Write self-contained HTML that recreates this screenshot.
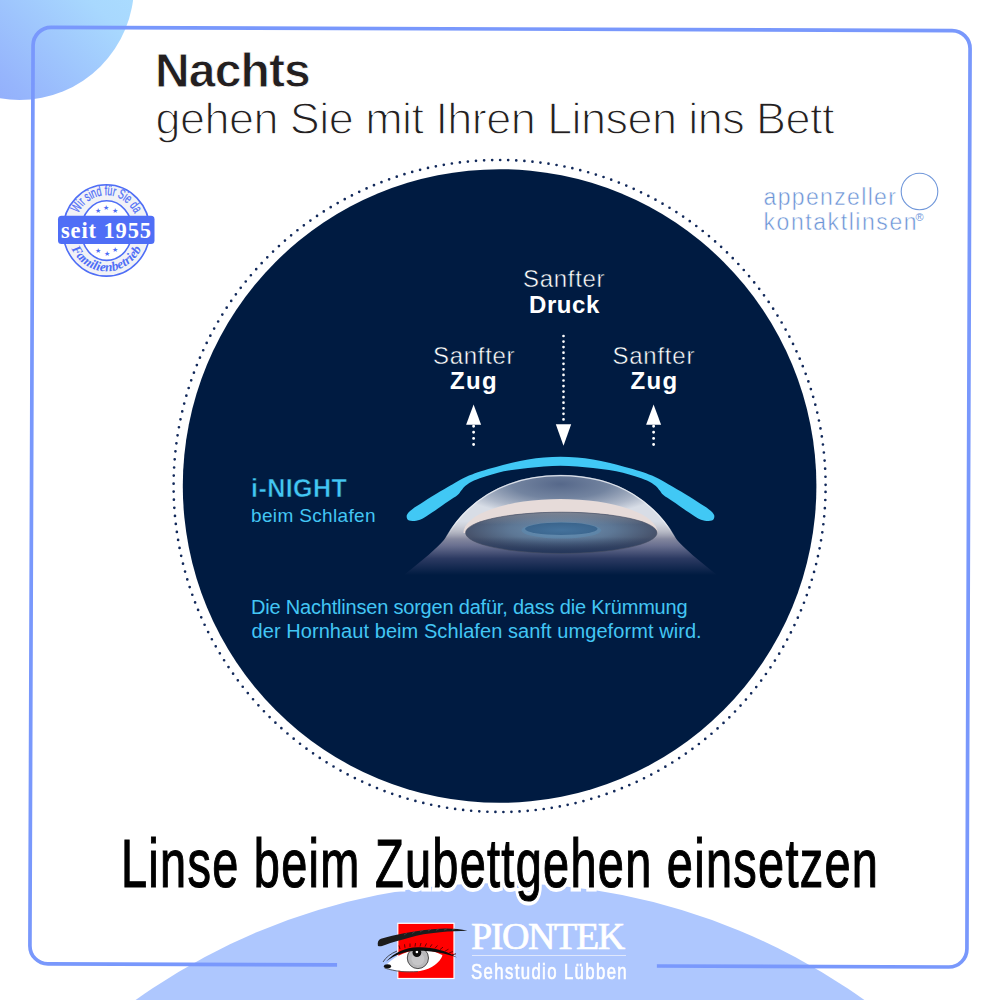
<!DOCTYPE html>
<html><head><meta charset="utf-8">
<style>
html,body{margin:0;padding:0;}
body{width:1000px;height:1000px;position:relative;overflow:hidden;background:#fff;font-family:"Liberation Sans",sans-serif;}
.abs{position:absolute;white-space:nowrap;}
#tlc{position:absolute;left:-95px;top:-129.5px;width:229px;height:229px;border-radius:50%;
 background:linear-gradient(225deg,#b0e6ff 0%,#a8d8fe 38%,#96b5fc 73%,#8a9ffa 100%);}
#bc{position:absolute;left:-126px;top:883px;width:1252px;height:1252px;border-radius:50%;background:#aec7fe;}
svg{position:absolute;left:0;top:0;}
.w{color:#fff;line-height:1;}
.w:not(.b){-webkit-text-stroke:0.5px #001b41;}
.c{color:#43c6f4;line-height:1;}
.b{font-weight:700;}
.ap{color:#6b93d6;line-height:1;-webkit-text-stroke:0.5px #fff;}
.t1{left:155px;top:43.2px;letter-spacing:-0.85px;-webkit-text-stroke:0.8px #fff;font-size:48px;font-weight:700;color:#231f20;}
.t2{left:155.6px;top:93.2px;font-size:45px;font-weight:400;color:#231f20;letter-spacing:-0.56px;-webkit-text-stroke:1.3px #fff;}
.head{left:121px;top:823.8px;font-size:69px;font-weight:400;color:#000;transform-origin:0 0;transform:scaleX(0.68);letter-spacing:1.88px;-webkit-text-stroke:1.2px #000;}
.halo{color:#fff;-webkit-text-stroke:9px #fff;}
</style></head><body>
<div id="tlc"></div>
<div id="bc"></div>

<svg width="1000" height="1000" viewBox="0 0 1000 1000">
 <g transform="rotate(0.2 500 497.2)" fill="none" stroke="#7998fc" stroke-width="3.7">
  <path d="M658.5 965.45 H950.5 A18 18 0 0 0 968.5 947.45 V46.95 A18 18 0 0 0 950.5 28.95 H49.5 A18 18 0 0 0 31.5 46.95 V947.45 A18 18 0 0 0 49.5 965.45 H338.7"/>
 </g>
 <circle cx="499.6" cy="486" r="326" fill="none" stroke="#12295a" stroke-width="2.7" stroke-linecap="round" stroke-dasharray="0 8.096" stroke-dashoffset="2.04"/>
 <circle cx="499.6" cy="486" r="316.8" fill="#001b41"/>
</svg>

<svg width="1000" height="1000" viewBox="0 0 1000 1000">
 <defs>
  <linearGradient id="glow" gradientUnits="userSpaceOnUse" x1="0" y1="516" x2="0" y2="575">
   <stop offset="0" stop-color="#c4c4cd"/>
   <stop offset="0.25" stop-color="#a3a3b0"/>
   <stop offset="0.5" stop-color="#6a7090"/>
   <stop offset="0.72" stop-color="#2c3a62"/>
   <stop offset="1" stop-color="#001b41"/>
  </linearGradient>
  <filter id="soft" x="-10%" y="-10%" width="120%" height="130%"><feGaussianBlur stdDeviation="1.2"/></filter>
  <radialGradient id="dome" cx="560.5" cy="484" r="108" gradientUnits="userSpaceOnUse" gradientTransform="translate(560.5 484) scale(1 0.3) translate(-560.5 -484)">
   <stop offset="0" stop-color="#56688a"/>
   <stop offset="0.45" stop-color="#7384a0"/>
   <stop offset="0.8" stop-color="#adb7c8"/>
   <stop offset="1" stop-color="#d8dde6"/>
  </radialGradient>
  <radialGradient id="iris" cx="0.5" cy="0.42" r="0.5">
   <stop offset="0" stop-color="#6f92b2"/>
   <stop offset="0.55" stop-color="#5d7795"/>
   <stop offset="1" stop-color="#47536c"/>
  </radialGradient>
  <linearGradient id="irisv" x1="0" y1="0" x2="0" y2="1">
   <stop offset="0" stop-color="#8a8f9a" stop-opacity="0.75"/>
   <stop offset="0.3" stop-color="#8a8f9a" stop-opacity="0"/>
   <stop offset="0.6" stop-color="#1c3057" stop-opacity="0"/>
   <stop offset="1" stop-color="#1c3057" stop-opacity="0.85"/>
  </linearGradient>
  <radialGradient id="pupil" cx="0.5" cy="0.6" r="0.6">
   <stop offset="0" stop-color="#44729c"/>
   <stop offset="1" stop-color="#3a648c"/>
  </radialGradient>
  <linearGradient id="dmg" gradientUnits="userSpaceOnUse" x1="0" y1="521" x2="0" y2="539">
   <stop offset="0" stop-color="#fff"/><stop offset="1" stop-color="#000"/>
  </linearGradient>
  <mask id="domemask" maskUnits="userSpaceOnUse" x="430" y="460" width="260" height="90"><rect x="430" y="460" width="260" height="90" fill="url(#dmg)"/></mask>
  <clipPath id="domeclip"><path d="M443.9,540 C462.4,506.9 499.3,474.8 560.5,474.8 C621.7,474.8 658.6,506.9 677.1,540 Z"/></clipPath>
 </defs>
 <!-- glow below eye -->
 <path d="M460.8,516.8 C458.6,519.4 456.5,522 454.3,524.6 C452.6,527.2 450.8,529.8 449.1,532.4 C447.4,535 445.6,537.5 443.9,540 C436,549 424,559 404,575 L717,575 C697,559 685,549 677.1,540 C675.4,537.5 673.6,535 671.9,532.4 C670.2,529.8 668.4,527.2 666.7,524.6 C664.5,522 662.4,519.4 660.2,516.8 Z" fill="url(#glow)"/>
 <!-- dome -->
 <path d="M443.9,540 C462.4,506.9 499.3,474.8 560.5,474.8 C621.7,474.8 658.6,506.9 677.1,540 Z" fill="url(#dome)" mask="url(#domemask)"/>
 <path d="M446.5,537 C464.5,505.5 500,475.7 560.5,475.7 C621,475.7 656.5,505.5 674.5,537" fill="none" stroke="#eef1f6" stroke-width="1.3" opacity="0.85" mask="url(#domemask)"/>
 <g clip-path="url(#domeclip)">
  <path d="M463.5,533 A97 34 0 0 1 657.5,533 Z" fill="#e6dbd9"/>
 </g>
 <ellipse cx="561.3" cy="532.8" rx="95.7" ry="20.6" fill="url(#iris)"/>
 <ellipse cx="561.3" cy="532.8" rx="95.7" ry="20.6" fill="url(#irisv)" stroke="#454d62" stroke-width="1" stroke-opacity="0.6"/>
 <ellipse cx="561.3" cy="530.3" rx="40" ry="8.2" fill="#5c8fb6" opacity="0.45"/>
 <ellipse cx="561.3" cy="528.8" rx="36.3" ry="6.2" fill="url(#pupil)"/>
 <!-- lens -->
 <path d="M560.5,456.8 C555.0,456.8 549.4,457.1 544.0,457.5 C538.6,457.9 533.3,458.6 528.0,459.5 C522.7,460.4 517.3,461.6 512.0,462.8 C506.7,464.1 501.2,465.6 496.0,467.0 C490.8,468.4 485.5,469.8 481.0,471.2 C476.5,472.6 473.2,473.8 469.0,475.6 C464.8,477.4 460.8,479.5 456.0,482.2 C451.2,484.9 445.3,488.4 440.0,491.6 C434.7,494.8 428.7,498.6 424.0,501.6 C419.3,504.6 414.9,507.1 412.0,509.4 C409.1,511.7 407.3,513.3 406.8,515.2 C406.3,517.1 407.0,519.8 409.2,520.6 C411.4,521.4 416.2,521.1 420.0,519.8 C423.8,518.5 427.3,515.7 432.0,512.6 C436.7,509.5 443.7,504.3 448.0,501.4 C452.3,498.5 455.4,496.9 457.6,495.0 C459.9,493.1 460.2,491.8 461.5,490.3 C462.8,488.8 463.4,487.4 465.5,485.8 C467.6,484.2 470.6,482.2 474.0,480.6 C477.4,479.0 482.0,477.6 486.0,476.3 C490.0,475.0 493.7,473.8 498.0,472.7 C502.3,471.6 507.0,470.8 512.0,470.0 C517.0,469.2 522.7,468.5 528.0,467.9 C533.3,467.3 538.6,466.8 544.0,466.4 C549.4,466.0 555.0,465.8 560.5,465.8 C566.0,465.8 571.6,466.0 577.0,466.4 C582.4,466.8 587.7,467.3 593.0,467.9 C598.3,468.5 604.0,469.2 609.0,470.0 C614.0,470.8 618.7,471.6 623.0,472.7 C627.3,473.8 631.0,475.0 635.0,476.3 C639.0,477.6 643.6,479.0 647.0,480.6 C650.4,482.2 653.4,484.2 655.5,485.8 C657.6,487.4 658.2,488.8 659.5,490.3 C660.8,491.8 661.1,493.1 663.4,495.0 C665.6,496.9 668.7,498.5 673.0,501.4 C677.3,504.3 684.3,509.5 689.0,512.6 C693.7,515.7 697.2,518.5 701.0,519.8 C704.8,521.1 709.6,521.4 711.8,520.6 C714.0,519.8 714.7,517.1 714.2,515.2 C713.7,513.3 711.9,511.7 709.0,509.4 C706.1,507.1 701.7,504.6 697.0,501.6 C692.3,498.6 686.3,494.8 681.0,491.6 C675.7,488.4 669.8,484.9 665.0,482.2 C660.2,479.5 656.2,477.4 652.0,475.6 C647.8,473.8 644.5,472.6 640.0,471.2 C635.5,469.8 630.2,468.4 625.0,467.0 C619.8,465.6 614.3,464.1 609.0,462.8 C603.7,461.6 598.3,460.4 593.0,459.5 C587.7,458.6 582.4,457.9 577.0,457.5 C571.6,457.1 566.0,456.8 560.5,456.8 Z" fill="#41c8f5"/>
 <!-- arrows -->
 <g fill="#fff">
  <line x1="563.5" y1="336" x2="563.5" y2="420" stroke="#fff" stroke-width="2.7" stroke-linecap="round" stroke-dasharray="0 5.56"/>
  <path d="M555.8,424.2 L571.2,424.2 L563.5,445.8 Z"/>
  <line x1="473.6" y1="426.2" x2="473.6" y2="445" stroke="#fff" stroke-width="2.9" stroke-linecap="round" stroke-dasharray="0 6.1"/>
  <path d="M466.1,424.7 L481.1,424.7 L473.6,404.6 Z"/>
  <line x1="653.6" y1="426.2" x2="653.6" y2="445" stroke="#fff" stroke-width="2.9" stroke-linecap="round" stroke-dasharray="0 6.1"/>
  <path d="M646.1,424.7 L661.1,424.7 L653.6,404.6 Z"/>
 </g>
</svg>

<div class="abs w" style="left:523px;top:267.2px;font-size:24px;letter-spacing:0.7px;">Sanfter</div>
<div class="abs w b" style="left:529px;top:292.7px;font-size:24px;letter-spacing:0.55px;">Druck</div>
<div class="abs w" style="left:433px;top:343.7px;font-size:24px;letter-spacing:0.7px;">Sanfter</div>
<div class="abs w b" style="left:450px;top:369.3px;font-size:24px;letter-spacing:1.4px;">Zug</div>
<div class="abs w" style="left:612.5px;top:343.7px;font-size:24px;letter-spacing:0.75px;">Sanfter</div>
<div class="abs w b" style="left:630.5px;top:369.3px;font-size:24px;letter-spacing:1.3px;">Zug</div>
<div class="abs c b" style="left:251px;top:476px;font-size:25px;letter-spacing:0.45px;-webkit-text-stroke:0.5px #001b41;">i-NIGHT</div>
<div class="abs c" style="left:251px;top:505.9px;font-size:19px;letter-spacing:0.35px;">beim Schlafen</div>
<div class="abs c" style="left:251px;top:597.1px;font-size:20px;letter-spacing:-0.2px;">Die Nachtlinsen sorgen dafür, dass die Krümmung</div>
<div class="abs c" style="left:251.5px;top:621.1px;font-size:20px;letter-spacing:0.07px;">der Hornhaut beim Schlafen sanft umgeformt wird.</div>
<svg width="1000" height="1000" viewBox="0 0 1000 1000" style="pointer-events:none">
 <defs>
  <path id="arcTop" d="M74.4,230.4 A32,35.2 0 0 1 138.4,230.4"/>
  <path id="arcBot" d="M67.4,230.4 A39,41 0 0 0 145.4,230.4"/>
 </defs>
 <g id="stamp">
  <ellipse cx="106.4" cy="230.4" rx="43.3" ry="45.7" fill="#f1f2f6" stroke="#4f6ef6" stroke-width="1.6"/>
  <ellipse cx="106.7" cy="230.6" rx="25.6" ry="29.8" fill="#fff" stroke="#4f6ef6" stroke-width="1.6"/>
  <text font-family="Liberation Sans" font-size="14" fill="#4f6ef6" stroke="#4f6ef6" stroke-width="0.25"><textPath href="#arcTop" startOffset="50%" text-anchor="middle" textLength="71" lengthAdjust="spacingAndGlyphs">Wir sind für Sie da</textPath></text>
  <text font-family="Liberation Serif" font-style="italic" font-weight="700" font-size="13" fill="#4f6ef6"><textPath href="#arcBot" startOffset="50%" text-anchor="middle" textLength="88" lengthAdjust="spacingAndGlyphs">Familienbetrieb</textPath></text>
  <g fill="#4f6ef6" font-family="Liberation Sans" font-size="7" text-anchor="middle">
   <text x="106" y="209.5">★</text><text x="97.5" y="213">★</text><text x="114.9" y="213">★</text>
   <text x="97.5" y="252.7">★</text><text x="106.5" y="256.4">★</text><text x="114.9" y="252.2">★</text>
  </g>
  <rect x="58" y="215.7" width="96.5" height="28.3" rx="3.5" fill="#4f6ef6"/>
  <text x="106" y="237.6" font-family="Liberation Serif" font-weight="700" font-size="22.5" fill="#fff" text-anchor="middle" textLength="90" lengthAdjust="spacing">seit 1955</text>
 </g>
 <!-- appenzeller circle -->
 <circle cx="919.5" cy="191.5" r="18.3" fill="none" stroke="#7097da" stroke-width="1.1"/>
</svg>

<div class="abs ap" style="left:763.5px;top:186px;font-size:23px;letter-spacing:1.35px;">appenzeller</div>
<div class="abs ap" style="left:763.5px;top:210.5px;font-size:23px;letter-spacing:1.57px;">kontaktlinsen</div>
<div class="abs" style="left:915.5px;top:211.5px;font-size:11px;line-height:1;color:#7097da;">®</div>
<div class="abs t1">Nachts</div>
<div class="abs t2">gehen Sie mit Ihren Linsen ins Bett</div>
<div class="abs head halo">Linse beim Zubettgehen einsetzen</div>
<div class="abs head">Linse beim Zubettgehen einsetzen</div>
<svg width="1000" height="1000" viewBox="0 0 1000 1000" style="pointer-events:none">
 <rect x="397.8" y="923.3" width="56.2" height="55.2" fill="#ff0000" stroke="#fff" stroke-width="1.2"/>
 <!-- eyebrow -->
 <path d="M377.9,945.7 C377.3,942 378.3,940 381,938.8 C388,936.3 396,934.7 404,933.2 C418,930.5 432,928.8 445,928.4 C453,928.3 461,929 467.5,930.8 C459,931 450,931.2 440,932.2 C428,933.2 418,935 410,937.5 C400,940.5 392,942.2 385,945 C381.5,946.4 379,946.6 377.9,945.7 Z" fill="#1c1c1c"/>
 <path d="M404,935 l3,-2 M412,933.5 l3,-2 M420,932 l3,-2 M428,931 l3,-1.8 M436,930.3 l3,-1.5 M444,930 l3,-1.2 M452,930 l3,-1" stroke="#555" stroke-width="0.8" fill="none" opacity="0.7"/>
 <!-- eye white -->
 <path d="M384.5,967 C392,958 403,951.5 418,950 C428,949.5 437,951.5 442.5,955.5 C440,962 432,969 420,971 C405,972.5 393,970.5 384.5,967 Z" fill="#fff"/>
 <clipPath id="eyeclip"><path d="M384.5,967 C392,958 403,951.5 418,950 C428,949.5 437,951.5 442.5,955.5 C440,962 432,969 420,971 C405,972.5 393,970.5 384.5,967 Z"/></clipPath>
 <g clip-path="url(#eyeclip)">
  <circle cx="417.9" cy="958" r="10.6" fill="#b9b9bb" stroke="#3a3a3a" stroke-width="0.9"/>
  <circle cx="417.9" cy="959" r="6.5" fill="#cfcfd1" opacity="0.6"/>
 </g>
 <circle cx="416.9" cy="952.6" r="4.4" fill="#0d0d0d"/>
 <circle cx="416.9" cy="951.9" r="1.3" fill="#fff"/>
 <!-- upper lid -->
 <path d="M386,961.5 C395,952 405,947.8 418,947.3 C432,946.8 446,950.5 457,957.5 C446,953.5 432,950.8 418,950.8 C405,951 395,955 386,961.5 Z" fill="#0d0d0d"/>
 <path d="M400,949 l-1,-3.5 M405,947.8 l-0.5,-3.5 M410,947 l0,-3.5 M415,946.6 l0.5,-3.5 M420,946.5 l1,-3.5 M425,946.7 l1.5,-3.3 M430,947.3 l2,-3 M435,948.3 l2.5,-2.8 M440,949.6 l3,-2.5 M445,951.2 l3.5,-2 M449,953 l4,-1.5 M452,954.8 l4,-1" stroke="#5a0000" stroke-width="0.9" fill="none"/>
 <path d="M383,962 C386,957 391,953.5 397,951" stroke="#2a2a2a" stroke-width="0.8" fill="none"/>
 <ellipse cx="387.5" cy="966.3" rx="3.6" ry="2.1" fill="#111"/>
 <path d="M384.5,968 C395,971.5 406,972.5 418,971.5" stroke="#555" stroke-width="0.9" fill="none"/>
 <line x1="472" y1="955.5" x2="626" y2="955.5" stroke="#dfe7fc" stroke-width="1.1"/>
</svg>

<div class="abs" style="left:471px;top:917px;font-family:'Liberation Serif',serif;font-size:38px;line-height:1;color:#fff;letter-spacing:-1.4px;-webkit-text-stroke:0.7px #fff;">PIONTEK</div>
<div class="abs" style="left:471px;top:962px;font-size:21.5px;line-height:1;color:#fff;transform-origin:0 0;transform:scaleX(0.78);letter-spacing:1.75px;-webkit-text-stroke:0.6px #fff;">Sehstudio Lübben</div>
</body></html>
